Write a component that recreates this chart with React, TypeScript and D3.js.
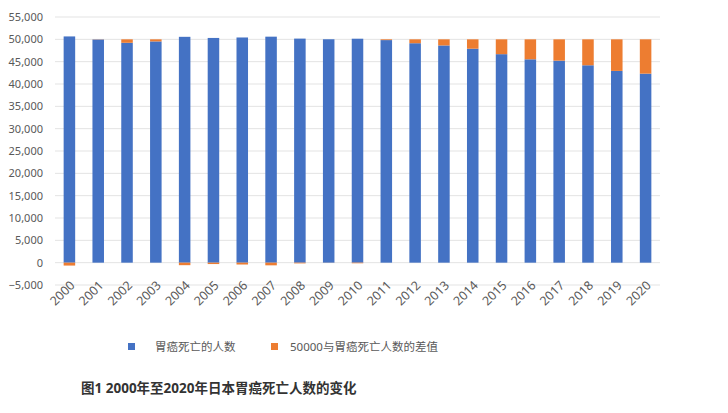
import React from "react";
import * as d3 from "d3";

const years = ["2000","2001","2002","2003","2004","2005","2006","2007","2008","2009","2010","2011","2012","2013","2014","2015","2016","2017","2018","2019","2020"];
const deaths = [50650, 49958, 49226, 49535, 50562, 50311, 50415, 50597, 50160, 50017, 50136, 49830, 49129, 48632, 47903, 46679, 45531, 45226, 44192, 42931, 42319];
const baseline = 50000;
const diffs = deaths.map((d) => baseline - d);
const yTicks = [-5000, 0, 5000, 10000, 15000, 20000, 25000, 30000, 35000, 40000, 45000, 50000, 55000];
const seriesNames = ["胃癌死亡的人数", "50000与胃癌死亡人数的差值"];
const colors = ["#4472C4", "#ED7D31"];
const title = "图1 2000年至2020年日本胃癌死亡人数的变化";

export default function App() {
  const W = 728, H = 413;
  const left = 55, right = 660, top = 17, bottom = 285;
  const x = d3.scaleBand<string>().domain(years).range([left, right]).paddingInner(0.6).paddingOuter(0.3);
  const y = d3.scaleLinear().domain([-5000, 55000]).range([bottom, top]);
  const rows = years.map((yr, i) => ({ year: yr, a: deaths[i], b: diffs[i] }));
  const stack = d3.stack<any>().keys(["a", "b"]).offset(d3.stackOffsetDiverging);
  const layers = stack(rows);
  const fmt = d3.format(",");
  const font = "'Noto Sans', 'Noto Sans CJK SC', sans-serif";
  return (
    <svg width={W} height={H} style={{ position: "absolute", left: 0, top: 0, background: "#fff" }} fontFamily={font}>
      {yTicks.map((t) => (
        <g key={t}>
          <line x1={left} x2={right} y1={y(t)} y2={y(t)} stroke="#e3e3e3" strokeWidth={1} />
          <text x={43} y={y(t)} dy="0.35em" textAnchor="end" fontSize={11} fill="#595959">{fmt(t)}</text>
        </g>
      ))}
      {layers.map((layer, li) => (
        <g key={li} fill={colors[li]}>
          {layer.map((d, i) => {
            const y0 = y(d[0]), y1 = y(d[1]);
            return (
              <rect key={i} x={x(years[i])} width={x.bandwidth()} y={Math.min(y0, y1)} height={Math.abs(y0 - y1)} />
            );
          })}
        </g>
      ))}
      {years.map((yr) => {
        const cx = (x(yr) as number) + x.bandwidth() / 2;
        return (
          <text key={yr} transform={`translate(${cx + 3},${283}) rotate(-45)`} textAnchor="end" dy="0.35em" fontSize={12.5} fill="#595959">{yr}</text>
        );
      })}
      <g>
        <rect x={128} y={343} width={7} height={7} fill={colors[0]} />
        <text x={155} y={347} dy="0.35em" fontSize={11.5} fill="#595959">{seriesNames[0]}</text>
        <rect x={271} y={343} width={7} height={7} fill={colors[1]} />
        <text x={290} y={347} dy="0.35em" fontSize={11.5} fill="#595959">{seriesNames[1]}</text>
      </g>
      <text x={81} y={393} fontSize={13.5} fontWeight="bold" fill="#333">{title}</text>
    </svg>
  );
}
